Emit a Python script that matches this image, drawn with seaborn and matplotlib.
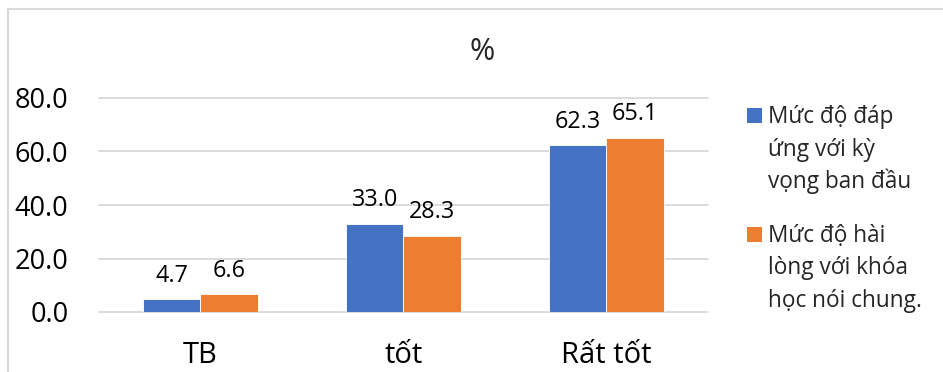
import matplotlib
matplotlib.use("Agg")
import matplotlib.pyplot as plt
from matplotlib.patches import Rectangle
import pandas as pd
import seaborn as sns

# Chart data
categories = ["TB", "tốt", "Rất tốt"]
series_names = [
    "Mức độ đáp\nứng với kỳ\nvọng ban đầu",
    "Mức độ hài\nlòng với khóa\nhọc nói chung.",
]
expectation_values = [4.7, 33.0, 62.3]
satisfaction_values = [6.6, 28.3, 65.1]
y_ticks = [0, 20, 40, 60, 80]
title_text = "%"

colors = ["#4472C4", "#ED7D31"]
grid_color = "#D9D9D9"

sns.set_theme(style="white")
plt.rcParams["font.family"] = ["Open Sans", "DejaVu Sans"]

df = pd.DataFrame({
    "category": categories * 2,
    "series": [series_names[0]] * len(categories) + [series_names[1]] * len(categories),
    "value": expectation_values + satisfaction_values,
})

W, H = 943, 372
fig = plt.figure(figsize=(W / 100, H / 100), dpi=100)
fig.patch.set_facecolor("white")

# plot area in pixel coordinates
left, right, top, bottom = 99, 708, 98, 312
ax = fig.add_axes([left / W, 1 - bottom / H, (right - left) / W, (bottom - top) / H])

sns.barplot(
    data=df, x="category", y="value", hue="series",
    order=categories, hue_order=series_names, palette=colors, saturation=1,
    width=0.567, edgecolor="white", linewidth=0.6,
    errorbar=None, legend=False, ax=ax,
)

for container in ax.containers:
    ax.bar_label(container, fmt="%.1f", padding=8.5, fontsize=16.8, color="black")

ax.set_ylim(0, 80)
ax.set_yticks(y_ticks)
ax.set_yticklabels([f"{t:.1f}" for t in y_ticks])
ax.set_xlabel("")
ax.set_ylabel("")
ax.tick_params(axis="y", length=0, pad=22, labelsize=19.5, labelcolor="black")
ax.tick_params(axis="x", length=0, pad=21, labelsize=21, labelcolor="black")
ax.yaxis.grid(True, color=grid_color, linewidth=1.3)
ax.xaxis.grid(False)
for gl in ax.get_ygridlines():
    gl.set_clip_on(False)
ax.set_axisbelow(True)
sns.despine(ax=ax, left=True, bottom=True)

# chart title
fig.text(482 / W, 1 - 52 / H, title_text, ha="center", va="center", fontsize=22)

# legend with square markers and wrapped labels
first_baselines = [123, 241.7]
line_pitch = 32.5
marker = 15
for name, color, base in zip(series_names, colors, first_baselines):
    fig.add_artist(Rectangle((747 / W, 1 - base / H), marker / W, marker / H,
                             transform=fig.transFigure, facecolor=color, edgecolor="none"))
    for j, line in enumerate(name.split("\n")):
        fig.text(768 / W, 1 - (base + j * line_pitch) / H, line,
                 ha="left", va="baseline", fontsize=16.3)

# chart frame
fig.add_artist(Rectangle((8 / W, -0.1), 1.2, 1.1 - 9 / H, transform=fig.transFigure,
                         fill=False, edgecolor=grid_color, linewidth=1.5))

fig.savefig("out.png", dpi=100)
